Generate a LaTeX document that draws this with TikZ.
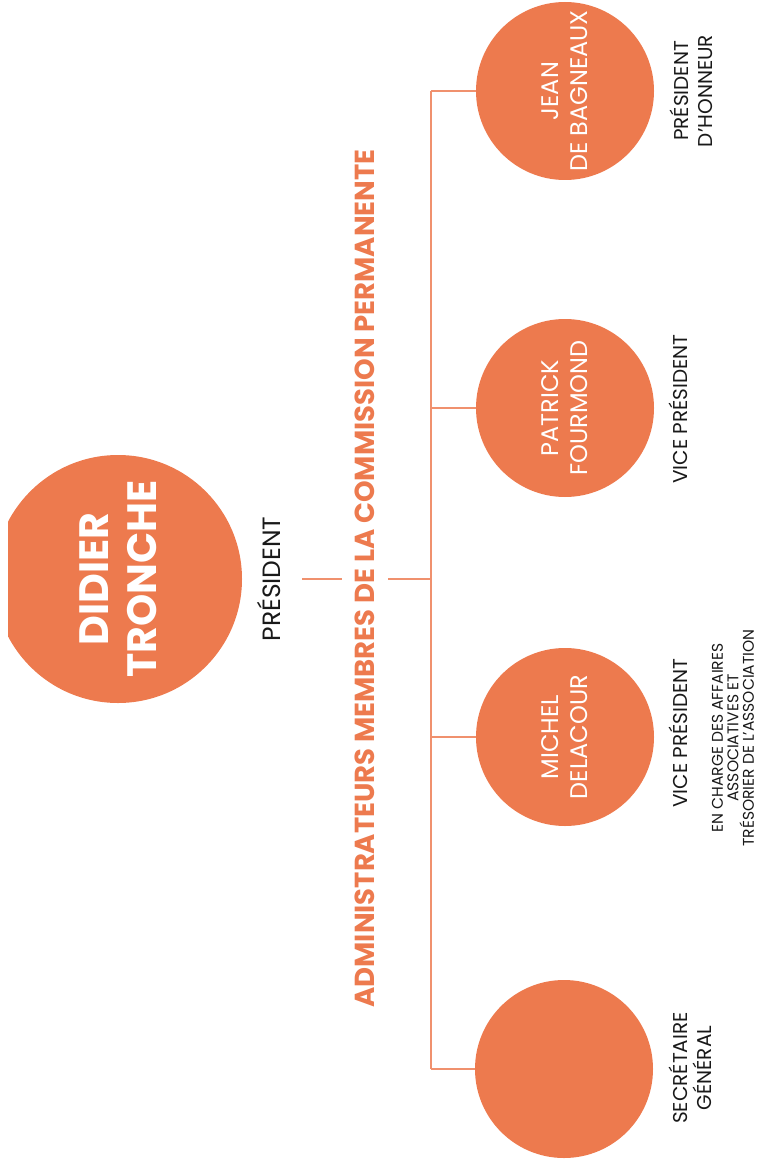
\documentclass[tikz,border=0pt]{standalone}
\usepackage{fontspec}
\setmainfont{Poppins}
\definecolor{orgfill}{RGB}{237,122,78}
\definecolor{orgline}{RGB}{240,145,110}
\definecolor{txt}{RGB}{25,25,25}
\begin{document}
\begin{tikzpicture}[x=1pt,y=-1pt,
  member/.style={circle, fill=orgfill, minimum size=178pt, inner sep=0pt,
    text=white, align=center, rotate=90, font=\fontsize{24}{29}\selectfont},
  role/.style={rotate=90, align=center, text=txt, inner sep=0pt,
    font=\fontsize{20}{24}\selectfont},
  detail/.style={rotate=90, align=center, text=txt, inner sep=0pt,
    font=\fontsize{15.5}{15.5}\selectfont},
  conn/.style={draw=orgline, line width=1.3pt}]
\useasboundingbox (0,0) rectangle (762,1166);

% president, circle cut flat on the left
\begin{scope}
  \clip (8,0) rectangle (762,1166);
  \node[member, minimum size=248pt, font=\fontsize{41}{48}\bfseries] (didier) at (118,579) {DIDIER\\TRONCHE};
\end{scope}
\node[role, font=\fontsize{25}{30}\selectfont] (didierrole) at (269,579) {PRÉSIDENT};

% members of the standing committee
\node[member] (jean)    at (565,91)   {JEAN\\DE BAGNEAUX};
\node[member] (patrick) at (565,408)  {PATRICK\\FOURMOND};
\node[member] (michel)  at (565,737)  {MICHEL\\DELACOUR};
\node[member] (secgen)  at (564,1069) {};

\node[role] (jeanrole)    at (691,91)   {PRÉSIDENT\\D'HONNEUR};
\node[role] (patrickrole) at (678,409)  {VICE PRÉSIDENT};
\node[role] (michelrole)  at (678,733)  {VICE PRÉSIDENT};
\node[detail] (micheldetail) at (733,738) {EN CHARGE DES AFFAIRES\\ASSOCIATIVES ET\\TRÉSORIER DE L'ASSOCIATION};
\node[role] (secgenrole)  at (690,1068) {SECRÉTAIRE\\GÉNÉRAL};

% connectors
\coordinate (stub) at (302,579);
\coordinate (hub)  at (431,579);
\coordinate (j1) at (431,91);
\coordinate (j2) at (431,408);
\coordinate (j3) at (431,737);
\coordinate (j4) at (431,1069);
\draw[conn] (stub) -- (hub);
\draw[conn] (j1) -- (j4);
\draw[conn] (j1) -- (jean);
\draw[conn] (j2) -- (patrick);
\draw[conn] (j3) -- (michel);
\draw[conn] (j4) -- (secgen);

% committee title, masking the stub where it crosses
\node[rotate=90, fill=white, text=orgfill, inner xsep=0pt, inner ysep=13pt,
  text height=19.5pt, text depth=0pt,
  font=\fontsize{27.5}{30}\bfseries] (title) at (365,578.5)
  {ADMINISTRATEURS MEMBRES DE LA COMMISSION PERMANENTE};
\end{tikzpicture}
\end{document}
